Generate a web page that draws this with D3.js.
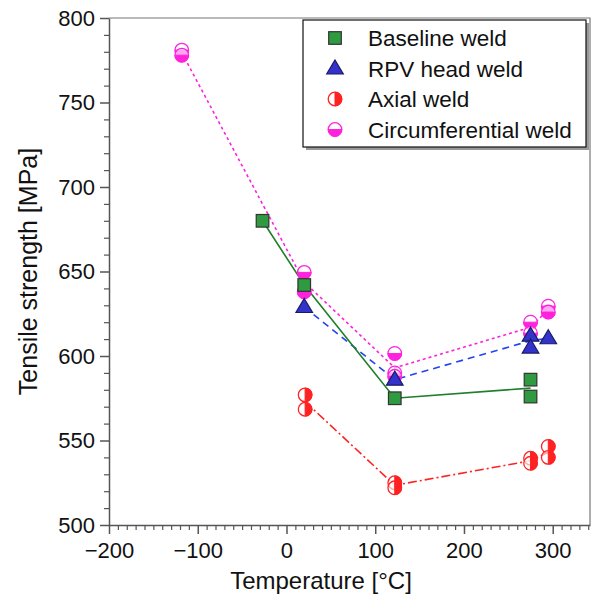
<!DOCTYPE html>
<html lang="en">
<head>
  <meta charset="UTF-8" />
  <title>Tensile strength vs temperature</title>
  <script src="https://d3js.org/d3.v7.min.js"></script>
  <style>
    body { margin: 0; background: #fff; font-family: "Liberation Sans", Arial, sans-serif; }
    .tick text { font: 22px "Liberation Sans", Arial, sans-serif; fill: #111; }
    .axis path, .axis line { stroke: #555; stroke-width: 1.5px; }
    .minor line { stroke: #555; stroke-width: 1.2px; }
    .title { font: 24px "Liberation Sans", Arial, sans-serif; fill: #111; }
    .legend text { font: 22.5px "Liberation Sans", Arial, sans-serif; fill: #111; }
  </style>
</head>
<body>
<svg width="597" height="596"></svg>

<script>
// ---- data ----
const xTicks = [-200, -100, 0, 100, 200, 300];
const yTicks = [500, 550, 600, 650, 700, 750, 800];

// Baseline weld
const baseT = [-27, 20, 122, 275, 275];
const baseS = [680, 642, 575, 586, 576];
const baseLineT = [-27, 20, 122, 275];
const baseLineS = [680, 642, 575, 581];

// RPV head weld
const rpvT = [20, 122, 275, 275, 295];
const rpvS = [629, 586, 612, 605, 610.5];
const rpvLineT = [20, 122, 275, 295];
const rpvLineS = [629, 586, 609, 610.5];

// Axial weld
const axT = [21, 21, 122, 122, 275, 275, 295, 295];
const axS = [577, 568.5, 525, 522, 539.5, 536.5, 546.5, 540];
const axLineT = [21, 122, 275, 295];
const axLineS = [573, 523.5, 538, 543];

// Circumferential weld
const cirT = [-118, -118, 20, 20, 122, 122, 122, 275, 275, 295, 295];
const cirS = [781, 778, 649.5, 638, 601.5, 590, 588, 620, 613.5, 629.5, 626];
const cirLineT = [-118, 20, 122, 275, 295];
const cirLineS = [779.5, 643.7, 593, 617, 627.5];

const legendNames = ["Baseline weld", "RPV head weld", "Axial weld", "Circumferential weld"];

// ---- layout ----
const svg = d3.select("svg");
const pLeft = 109, pRight = 590, pTop = 18, pBottom = 525;

const x = d3.scaleLinear().domain([-200, 342]).range([pLeft, pRight]);
const y = d3.scaleLinear().domain([500, 800]).range([pBottom, pTop]);

const fmt = d => (d < 0 ? "\u2212" + Math.abs(d) : d);

// frame (top and right)
svg.append("path")
  .attr("d", `M${pLeft},${pTop}H${pRight}V${pBottom}`)
  .attr("fill", "none").attr("stroke", "#777").attr("stroke-width", 1.2);

// minor ticks
const xMinor = d3.range(-200, 341, 10).filter(v => v % 100 !== 0);
const yMinor = d3.range(500, 801, 10).filter(v => v % 50 !== 0);

svg.append("g").attr("class", "minor")
  .attr("transform", `translate(0,${pBottom})`)
  .call(d3.axisBottom(x).tickValues(xMinor).tickSize(5).tickFormat(""))
  .call(g => g.select(".domain").remove());

svg.append("g").attr("class", "minor")
  .attr("transform", `translate(${pLeft},0)`)
  .call(d3.axisLeft(y).tickValues(yMinor).tickSize(5).tickFormat(""))
  .call(g => g.select(".domain").remove());

// main axes
svg.append("g").attr("class", "axis")
  .attr("transform", `translate(0,${pBottom})`)
  .call(d3.axisBottom(x).tickValues(xTicks).tickSize(9).tickSizeOuter(0).tickPadding(8).tickFormat(fmt));

svg.append("g").attr("class", "axis")
  .attr("transform", `translate(${pLeft},0)`)
  .call(d3.axisLeft(y).tickValues(yTicks).tickSize(9).tickSizeOuter(0).tickPadding(5).tickFormat(fmt));

// axis titles
svg.append("text").attr("class", "title")
  .attr("x", 321).attr("y", 589).attr("text-anchor", "middle")
  .text("Temperature [°C]");

svg.append("text").attr("class", "title")
  .attr("transform", `translate(37,${(pTop + pBottom) / 2}) rotate(-90)`)
  .attr("text-anchor", "middle")
  .style("font-size", "25px")
  .text("Tensile strength [MPa]");

// ---- lines ----
const line = d3.line().x(d => x(d[0])).y(d => y(d[1]));
const zip = (a, b) => a.map((v, i) => [v, b[i]]);

const series = [
  { pts: zip(cirT, cirS), ln: zip(cirLineT, cirLineS), color: "#ff22dd", dash: "3,3", mark: "halfBottom" },
  { pts: zip(rpvT, rpvS), ln: zip(rpvLineT, rpvLineS), color: "#2244ee", dash: "7,5", mark: "triangle" },
  { pts: zip(baseT, baseS), ln: zip(baseLineT, baseLineS), color: "#1f7f2a", dash: null, mark: "square" },
  { pts: zip(axT, axS), ln: zip(axLineT, axLineS), color: "#ff2222", dash: "9,3,2,3", mark: "halfRight" }
];

series.forEach(s => {
  svg.append("path")
    .attr("d", line(s.ln))
    .attr("fill", "none")
    .attr("stroke", s.color)
    .attr("stroke-width", 1.6)
    .attr("stroke-dasharray", s.dash);
});

// ---- markers ----
function drawMarker(g, kind, cx, cy) {
  const r = 6.8;
  if (kind === "square") {
    g.append("rect")
      .attr("x", cx - 6.3).attr("y", cy - 6.3).attr("width", 12.6).attr("height", 12.6)
      .attr("fill", "#2f9a3f").attr("stroke", "#333").attr("stroke-width", 1.2);
  } else if (kind === "triangle") {
    g.append("path")
      .attr("d", `M${cx},${cy - 8.5}L${cx + 8.3},${cy + 5.5}L${cx - 8.3},${cy + 5.5}Z`)
      .attr("fill", "#3333cc").attr("stroke", "#1a1a66").attr("stroke-width", 1.2);
  } else if (kind === "halfRight") {
    g.append("circle").attr("cx", cx).attr("cy", cy).attr("r", r)
      .attr("fill", "#fff").attr("fill-opacity", 0.6);
    g.append("path")
      .attr("d", `M${cx},${cy - r}A${r},${r} 0 0 1 ${cx},${cy + r}Z`)
      .attr("fill", "#ff2222").attr("stroke", "#ff2222").attr("stroke-width", 1);
    g.append("circle").attr("cx", cx).attr("cy", cy).attr("r", r)
      .attr("fill", "none").attr("stroke", "#ff2222").attr("stroke-width", 1.3);
  } else if (kind === "halfBottom") {
    g.append("circle").attr("cx", cx).attr("cy", cy).attr("r", r)
      .attr("fill", "#fff").attr("fill-opacity", 0.6);
    g.append("path")
      .attr("d", `M${cx - r},${cy}A${r},${r} 0 0 0 ${cx + r},${cy}Z`)
      .attr("fill", "#ff22dd").attr("stroke", "#ff22dd").attr("stroke-width", 1);
    g.append("circle").attr("cx", cx).attr("cy", cy).attr("r", r)
      .attr("fill", "none").attr("stroke", "#ff22dd").attr("stroke-width", 1.3);
  }
}

const marks = svg.append("g");
series.forEach(s => {
  s.pts.forEach(p => drawMarker(marks, s.mark, x(p[0]), y(p[1])));
});

// ---- legend ----
const lg = svg.append("g").attr("class", "legend");
const lx = 303, ly = 20, lw = 283, lh = 127;
lg.append("rect").attr("x", lx + 3).attr("y", ly + 3).attr("width", lw).attr("height", lh)
  .attr("fill", "#999");
lg.append("rect").attr("x", lx).attr("y", ly).attr("width", lw).attr("height", lh)
  .attr("fill", "#fff").attr("stroke", "#111").attr("stroke-width", 1.2);

const legendMarks = ["square", "triangle", "halfRight", "halfBottom"];
legendNames.forEach((name, i) => {
  const cy = 38 + i * 30.5;
  drawMarker(lg, legendMarks[i], 335, cy);
  lg.append("text").attr("x", 368).attr("y", cy + 8).text(name);
});
</script>
</body>
</html>
